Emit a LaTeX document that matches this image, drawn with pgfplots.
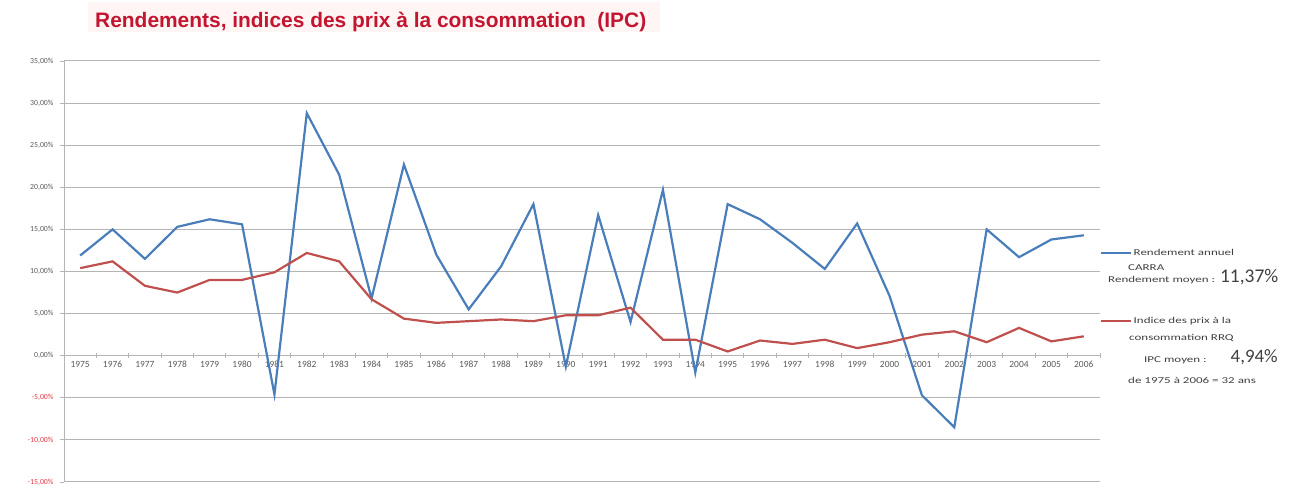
\documentclass[border=0pt]{standalone}
\usepackage{pgfplots}
\pgfplotsset{compat=1.18}
\usepackage{graphicx}
\usepackage{fontspec}
\setmainfont{Carlito}
\newfontfamily\titlefont{Liberation Sans}
\definecolor{cblue}{HTML}{4A7EBB}
\definecolor{cred}{HTML}{C0504D}
\definecolor{ctitle}{HTML}{C3152F}
\definecolor{ctick}{HTML}{595959}
\definecolor{ctext}{HTML}{404040}
\definecolor{cgrid}{HTML}{B4B4B4}
\definecolor{cneg}{HTML}{E03C46}
\newcommand{\sx}[1]{\scalebox{1.45}[1]{#1}}

\pgfplotstableread{
x rend ipc
0 11.9 10.4
1 15.0 11.2
2 11.5 8.3
3 15.3 7.5
4 16.2 9.0
5 15.6 9.0
6 -4.6 9.9
7 28.8 12.2
8 21.5 11.2
9 6.8 6.7
10 22.7 4.4
11 12.0 3.9
12 5.5 4.1
13 10.6 4.3
14 18.0 4.1
15 -1.3 4.8
16 16.7 4.8
17 4.0 5.7
18 19.7 1.9
19 -2.0 1.9
20 18.0 0.5
21 16.2 1.8
22 13.4 1.4
23 10.3 1.9
24 15.7 0.9
25 7.1 1.6
26 -4.7 2.5
27 -8.5 2.9
28 15.0 1.6
29 11.7 3.3
30 13.8 1.7
31 14.3 2.3
}\datatable

\begin{document}
\begin{tikzpicture}[x=1bp,y=1bp]
\path[use as bounding box] (0,0) rectangle (1294,490);
\fill[red!4] (88,6+452) rectangle (660,36+452);
\node[anchor=base west, inner sep=0pt, text=ctitle, font=\titlefont\bfseries\fontsize{21}{24}\selectfont] at (95,462) {Rendements, indices des prix à la consommation\ \ (IPC)};
\begin{axis}[
  at={(64bp,8bp)}, anchor=south west,
  scale only axis, width=1036bp, height=421bp,
  xmin=-0.5, xmax=31.5, ymin=-15, ymax=35,
  axis x line=middle, axis y line=left,
  axis line style={draw=cgrid, line width=0.8bp, -},
  hide obscured x ticks=false,
  xtick={0,...,31},
  xticklabels={1975,1976,1977,1978,1979,1980,1981,1982,1983,1984,1985,1986,1987,1988,1989,1990,1991,1992,1993,1994,1995,1996,1997,1998,1999,2000,2001,2002,2003,2004,2005,2006},
  major x tick style={draw=none},
  minor xtick={-0.5,0.5,...,31.5},
  minor tick length=5bp,
  minor tick style={draw=cgrid, line width=0.8bp},
  ytick={-15,-10,...,35},
  yticklabels={{\color{cneg}-15,00\%},{\color{cneg}-10,00\%},{\color{cneg}-5,00\%},{0,00\%},{5,00\%},{10,00\%},{15,00\%},{20,00\%},{25,00\%},{30,00\%},{35,00\%}},
  ytick align=outside, major tick length=4bp,
  major y tick style={draw=cgrid, line width=0.8bp},
  ymajorgrids, grid style={draw=cgrid, line width=1bp},
  xticklabel style={font=\fontsize{9.5}{10}\selectfont, text=ctick},
  yticklabel style={font=\fontsize{7.8}{8}\selectfont, text=ctick, xshift=-3bp},
  clip=false,
  legend image code/.code={\draw[#1] (0bp,0bp) -- (30bp,0bp);},
  legend style={at={(1.0,0.556)}, anchor=north west, draw=none, fill=none,
    inner sep=0pt, row sep=57bp, font=\fontsize{9}{11}\selectfont,
    nodes={inner sep=1.5bp, text=ctext}},
  legend cell align=left,
]
\addplot[cblue, line width=2.2bp, forget plot] table[x=x, y=rend] {\datatable};
\addplot[cred, line width=2.2bp, forget plot] table[x=x, y=ipc] {\datatable};
\addlegendimage{draw=cblue, line width=2bp}
\addlegendentry{\sx{Rendement annuel}}
\addlegendimage{draw=cred, line width=2bp}
\addlegendentry{\sx{Indice des prix à la}}
\end{axis}
\begin{scope}[every node/.style={inner sep=0pt, text=ctext, font=\fontsize{9}{11}\selectfont}]
\node[anchor=west] at (1128,222) {\sx{CARRA}};
\node[anchor=base west] at (1108,207) {\sx{Rendement moyen :}\hspace{5bp}{\fontsize{19.5}{22}\selectfont 11,37\%}};
\node[anchor=west] at (1129,152) {\sx{consommation RRQ}};
\node[anchor=base west] at (1144,127) {\sx{IPC moyen :}\hspace{24bp}{\fontsize{19}{22}\selectfont 4,94\%}};
\node[anchor=west] at (1128,110) {\sx{de 1975 à 2006 = 32 ans}};
\end{scope}
\end{tikzpicture}
\end{document}
